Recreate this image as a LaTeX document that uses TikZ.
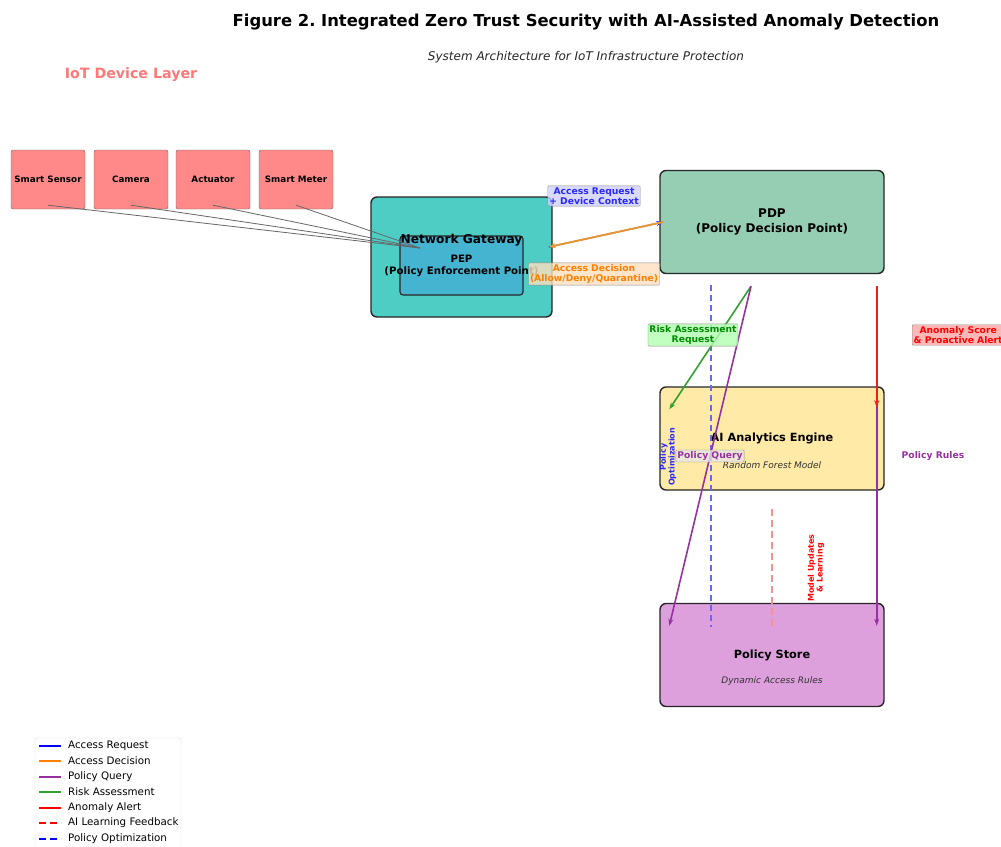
\documentclass[tikz,border=0pt]{standalone}
\usepackage{fontspec}
\setmainfont{DejaVu Sans}
\usetikzlibrary{arrows.meta}
\frenchspacing
\definecolor{devred}{RGB}{255,137,137}
\definecolor{layerred}{RGB}{255,120,120}
\definecolor{gwteal}{RGB}{78,205,196}
\definecolor{pepblue}{RGB}{69,180,208}
\definecolor{pdpgreen}{RGB}{150,206,180}
\definecolor{aiyellow}{RGB}{255,234,167}
\definecolor{storeplum}{RGB}{221,160,221}
\definecolor{reqblue}{RGB}{40,40,255}
\definecolor{decorange}{RGB}{232,150,50}
\definecolor{qpurple}{RGB}{150,50,160}
\definecolor{riskgreen}{RGB}{50,160,50}
\definecolor{alertred}{RGB}{245,30,30}
\tikzset{
  dev/.style={draw=black!60, fill=devred, rounded corners=2pt, minimum width=74pt, minimum height=59pt, inner sep=0pt, font=\fontsize{8.8}{10}\selectfont\bfseries},
  comp/.style={draw=black!85, line width=1.4pt, rounded corners=6pt, minimum width=224pt, minimum height=103pt, inner sep=0pt, align=center, font=\fontsize{12}{14.5}\selectfont\bfseries},
  sub/.style={font=\fontsize{9}{10}\selectfont\itshape, text=black!80},
  tag/.style={draw=black!45, rounded corners=1pt, inner sep=1.5pt, align=center, fill opacity=0.8, text opacity=1, font=\fontsize{9.2}{10.3}\selectfont\bfseries},
  flow/.style={-{Stealth[length=7pt,width=5pt]}, line width=1.6pt},
  lgdash/.style={dash pattern=on 7pt off 4pt},
}
\begin{document}
\begin{tikzpicture}[x=1pt,y=-1pt]
\useasboundingbox (0,0) rectangle (1001,846);
% titles
\node[font=\fontsize{16.4}{18}\selectfont\bfseries] (title) at (586,22) {Figure 2. Integrated Zero Trust Security with AI-Assisted Anomaly Detection};
\node[font=\fontsize{12}{14}\selectfont\itshape, text=black!85] (subtitle) at (586,57) {System Architecture for IoT Infrastructure Protection};
\node[font=\fontsize{14.2}{16}\selectfont\bfseries, text=layerred] (layer) at (131,75) {IoT Device Layer};

% IoT devices
\node[dev] (D1) at (48,179.5) {Smart Sensor};
\node[dev] (D2) at (131,179.5) {Camera};
\node[dev] (D3) at (213,179.5) {Actuator};
\node[dev] (D4) at (296,179.5) {Smart Meter};

% gateway with PEP
\node[comp, fill=gwteal, minimum width=181pt, minimum height=120pt] (GW) at (461.5,257) {};
\node[comp, fill=pepblue, line width=1.1pt, rounded corners=3pt, minimum width=123pt, minimum height=59pt] (PEP) at (461.5,265.5) {};
\node[align=center, font=\fontsize{10.2}{12}\selectfont\bfseries] (PEPtext) at (461.5,265.5) {PEP\\(Policy Enforcement Point)};
\node[font=\fontsize{12.2}{14}\selectfont\bfseries] (GWlabel) at (461.5,240) {Network Gateway};
\coordinate (GWin) at (420,248);
\foreach \d in {D1,D2,D3,D4}
  \draw[black!60, line width=0.8pt] ([yshift=4pt]\d.south) -- (GWin);

% main components
\node[comp, fill=pdpgreen] (PDP) at (772,222) {PDP\\(Policy Decision Point)};
\node[comp, fill=aiyellow, font=\fontsize{11.3}{13}\selectfont\bfseries] (AI) at (772,438.5) {AI Analytics Engine};
\node[sub] (AIsub) at (772,465) {Random Forest Model};
\node[comp, fill=storeplum, font=\fontsize{11.3}{13}\selectfont\bfseries] (PS) at (772,655) {Policy Store};
\node[sub] (PSsub) at (772,681) {Dynamic Access Rules};

% flows
\draw[flow, reqblue, line width=1.2pt] ([yshift=10pt,xshift=-4pt]GW.east) -- ([xshift=4pt]PDP.west);
\draw[flow, decorange, line width=1.9pt] ([xshift=4pt]PDP.west) -- ([yshift=10pt,xshift=-4pt]GW.east);
\draw[blue!60, line width=1.4pt, dash pattern=on 6pt off 4pt] ([xshift=-61pt,yshift=-11pt]PDP.south) -- ([xshift=-61pt,yshift=-24pt]PS.north);
\draw[flow, riskgreen] ([xshift=-21pt,yshift=-12pt]PDP.south) -- ([xshift=10pt,yshift=-23pt]AI.north west);
\draw[flow, qpurple] ([xshift=-21pt,yshift=-12pt]PDP.south) -- ([xshift=10pt,yshift=-23pt]PS.north west);
\draw[flow, qpurple] ([xshift=-8pt,yshift=-12pt]PDP.south east) -- ([xshift=-8pt,yshift=-23pt]PS.north east);
\draw[flow, alertred] ([xshift=-8pt,yshift=-12pt]PDP.south east) -- ([xshift=-8pt,yshift=-21pt]AI.north east);
\draw[alertred!50, line width=1.6pt, dash pattern=on 7pt off 4pt] ([yshift=-18pt]AI.south) -- ([yshift=-24pt]PS.north);

% flow labels
\node[tag, fill=blue!18, text=reqblue] (Lreq) at (594,196) {Access Request\\+ Device Context};
\node[tag, fill=orange!25, text=orange] (Ldec) at (594,274) {Access Decision\\(Allow/Deny/Quarantine)};
\node[tag, fill=green!30, text=green!55!black] (Lrisk) at (693,335) {Risk Assessment\\Request};
\node[tag, fill=red!35, text=red, anchor=west] (Lalert) at (912,335) {Anomaly Score\\\& Proactive Alert};
\node[tag, fill=black!10, text=qpurple] (Lquery) at (710,456) {Policy Query};
\node[font=\fontsize{9.2}{10}\selectfont\bfseries, text=qpurple] (Lrules) at (933,456) {Policy Rules};
\node[rotate=90, align=center, font=\fontsize{8}{8.8}\selectfont\bfseries, text=reqblue] (Lopt) at (668,457) {Policy\\Optimization};
\node[rotate=90, align=center, font=\fontsize{8}{8.8}\selectfont\bfseries, text=red] (Llearn) at (816,568) {Model Updates\\\& Learning};

% legend
\node[draw=black!15, rounded corners=2pt, minimum width=146pt, minimum height=114pt] (legend) at (108,795) {};
\foreach \c/\s/\y/\t [count=\i] in {blue/solid/746/Access Request, orange/solid/761/Access Decision, qpurple/solid/777/Policy Query, riskgreen/solid/792/Risk Assessment, red/solid/808/Anomaly Alert, red/lgdash/823/AI Learning Feedback, blue/lgdash/839/Policy Optimization} {
  \draw[\c, \s, line width=1.8pt] (39,\y) -- (61,\y);
  \node[anchor=west, font=\fontsize{10.3}{12}\selectfont, inner sep=0pt] (leg\i) at (68,\y) {\t};
}
\end{tikzpicture}
\end{document}
